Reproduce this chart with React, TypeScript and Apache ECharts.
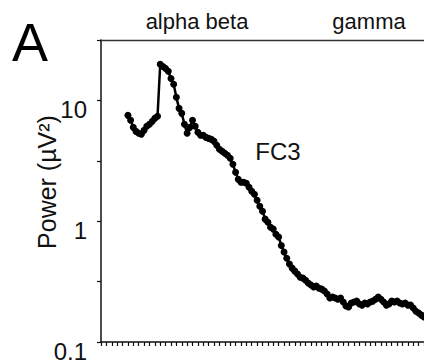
import React, { useEffect, useRef } from "react";
import * as echarts from "echarts";

// Frequency grid (Hz): first sample and spacing
const FREQ_START = 5;
const FREQ_STEP = 0.5;

// Power spectrum at FC3 (µV²), one value per frequency sample
const power: number[] = [
  7.52, 6.84, 5.98, 5.54, 5.34, 5.24, 5.65, 6.1, 6.34, 6.7,
  7.1, 7.38, 19.9, 19.1, 18.4, 17.4, 15.2, 13.6, 10.6, 8.59,
  7.81, 6.34, 5.34, 5.98, 6.84, 6.1, 5.44, 5.14, 5.14, 4.94,
  4.85, 4.76, 4.58, 4.25, 3.94, 3.79, 3.65, 3.51, 3.32, 2.96,
  2.54, 2.22, 2.1, 2.1, 2.06, 1.91, 1.77, 1.67, 1.49, 1.33,
  1.21, 1.04, 0.98, 0.89, 0.86, 0.78, 0.74, 0.63, 0.555, 0.494,
  0.442, 0.409, 0.386, 0.365, 0.344, 0.338, 0.325, 0.308, 0.296, 0.285,
  0.29, 0.279, 0.274, 0.264, 0.25, 0.231, 0.236, 0.231, 0.226, 0.231,
  0.214, 0.199, 0.195, 0.21, 0.214, 0.218, 0.206, 0.202, 0.21, 0.206,
  0.214, 0.218, 0.226, 0.236, 0.226, 0.214, 0.202, 0.206, 0.218, 0.214,
  0.218, 0.21, 0.206, 0.21, 0.202, 0.202, 0.191, 0.18, 0.174, 0.167,
  0.161,
];

// Y tick labels shown (decades)
const yTickLabels: number[] = [0.1, 1, 10];

const bandLabels = ["alpha beta", "gamma"];
const channelLabel = "FC3";
const panelLabel = "A";
const yAxisTitle = "Power (µV²)";

const FONT = "'Liberation Sans', Arial, Helvetica, sans-serif";

export default function App() {
  const ref = useRef<HTMLDivElement>(null);

  useEffect(() => {
    document.body.style.margin = "0";
    if (!ref.current) return;
    const chart = echarts.init(ref.current, undefined, { renderer: "svg" });

    const data = power.map((v, i) => [FREQ_START + i * FREQ_STEP, v]);

    chart.setOption({
      animation: false,
      backgroundColor: "#ffffff",
      grid: { left: 101, right: 0, top: 40, bottom: 22, containLabel: false },
      xAxis: [
        {
          type: "value",
          min: 0,
          max: 60,
          interval: 1,
          axisLine: { show: true, lineStyle: { color: "#111", width: 1.5 } },
          axisTick: { show: true, inside: false, length: 4, lineStyle: { color: "#111", width: 1.2 } },
          axisLabel: { show: false },
          splitLine: { show: false },
        },
        {
          type: "value",
          position: "top",
          min: 0,
          max: 60,
          axisLine: { show: true, lineStyle: { color: "#333", width: 1.3 } },
          axisTick: { show: false },
          axisLabel: { show: false },
          splitLine: { show: false },
        },
      ],
      yAxis: {
        type: "log",
        logBase: 10,
        min: 0.1,
        max: 31.6227766,
        interval: 0.5,
        axisLine: { show: true, lineStyle: { color: "#111", width: 1.5 } },
        axisTick: { show: true, inside: false, length: 4, lineStyle: { color: "#111", width: 1.2 } },
        splitLine: { show: false },
        minorTick: { show: false },
        axisLabel: {
          show: true,
          margin: 14,
          fontSize: 24,
          fontFamily: FONT,
          color: "#111",
          verticalAlign: "top",
          lineHeight: 19,
          formatter: (v: number) => {
            const hit = yTickLabels.find((t) => Math.abs(Math.log10(v) - Math.log10(t)) < 1e-6);
            return hit !== undefined ? String(hit) : "";
          },
        },
      },
      series: [
        {
          type: "line",
          data,
          symbol: "circle",
          symbolSize: 7,
          showSymbol: true,
          itemStyle: { color: "#000" },
          lineStyle: { color: "#000", width: 2.5 },
          silent: true,
        },
      ],
      graphic: [
        {
          type: "text",
          x: 30,
          y: 42,
          style: { text: panelLabel, font: `54px ${FONT}`, fill: "#000", align: "center", verticalAlign: "middle" },
        },
        {
          type: "text",
          x: 197,
          y: 21,
          style: { text: bandLabels[0], font: `22px ${FONT}`, fill: "#111", align: "center", verticalAlign: "middle" },
        },
        {
          type: "text",
          x: 369,
          y: 21,
          style: { text: bandLabels[1], font: `22px ${FONT}`, fill: "#111", align: "center", verticalAlign: "middle" },
        },
        {
          type: "text",
          x: 278,
          y: 151,
          style: { text: channelLabel, font: `24px ${FONT}`, fill: "#111", align: "center", verticalAlign: "middle" },
        },
        {
          type: "text",
          x: 47,
          y: 182,
          rotation: Math.PI / 2,
          style: { text: yAxisTitle, font: `25px ${FONT}`, fill: "#111", align: "center", verticalAlign: "middle" },
        },
      ],
    });

    return () => chart.dispose();
  }, []);

  return <div ref={ref} style={{ width: 424, height: 364 }} />;
}
